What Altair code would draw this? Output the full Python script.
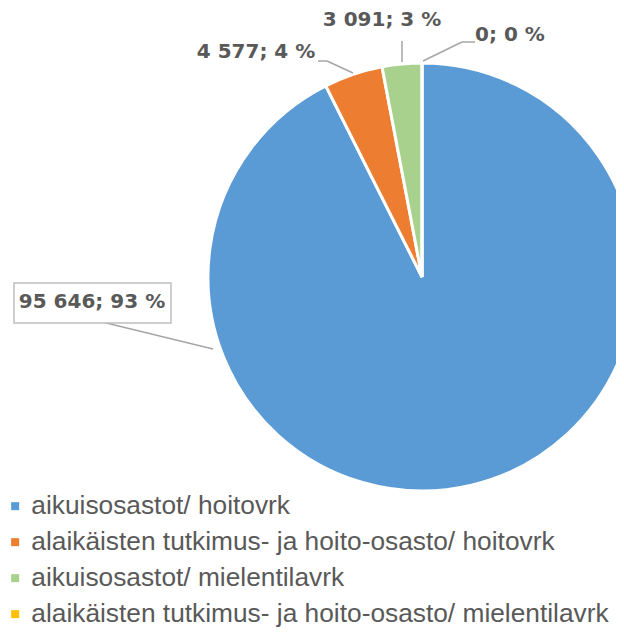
import altair as alt
import pandas as pd

# ---- data ----
categories = [
    "aikuisosastot/ hoitovrk",
    "alaikäisten tutkimus- ja hoito-osasto/ hoitovrk",
    "aikuisosastot/ mielentilavrk",
    "alaikäisten tutkimus- ja hoito-osasto/ mielentilavrk",
]
values = [95646, 4577, 3091, 0]
colors = ["#5B9BD5", "#ED7D31", "#A9D18E", "#FFC000"]

total = sum(values)
labels = [f"{v:,}".replace(",", " ") + f"; {round(100 * v / total)} %" for v in values]

# ---- layout (chart pixels) ----
CX, CY, R = 414, 269, 214
label_x = [84, 248, 374, 502]
label_y = [294, 44, 12, 27]
seg_x = [90, 310, 319, 394, 467, 454]
seg_y = [313, 53, 53, 33, 34, 34]
seg_x2 = [205, 319, 345, 394, 454, 415]
seg_y2 = [341, 53, 65, 54, 34, 53]
box = dict(x=6, x2=163, y=275, y2=315)

df = pd.DataFrame({"category": categories, "value": values, "idx": list(range(len(values)))})

pie = alt.Chart(df).mark_arc(outerRadius=R, stroke="white", strokeWidth=3).encode(
    theta=alt.Theta("value:Q", stack=True),
    order=alt.Order("idx:Q"),
    color=alt.Color(
        "category:N",
        scale=alt.Scale(domain=categories, range=colors),
        sort=categories,
        legend=alt.Legend(
            title=None,
            orient="none",
            legendX=-6,
            legendY=485,
            direction="vertical",
            symbolType="square",
            symbolSize=64,
            symbolStrokeWidth=0,
            labelFont="Liberation Sans",
            labelFontSize=26.3,
            labelColor="#595959",
            labelLimit=800,
            labelOffset=3,
            rowPadding=9,
            padding=0,
        ),
    ),
    x=alt.value(CX),
    y=alt.value(CY),
)

seg_df = pd.DataFrame({"x": seg_x, "y": seg_y, "x2": seg_x2, "y2": seg_y2})
leaders = alt.Chart(seg_df).mark_rule(color="#A6A6A6", strokeWidth=1.5).encode(
    x=alt.X("x:Q", scale=None, axis=None),
    y=alt.Y("y:Q", scale=None, axis=None),
    x2="x2:Q",
    y2="y2:Q",
)

box_chart = alt.Chart(pd.DataFrame({"a": [0]})).mark_rect(
    fill="white", stroke="#BFBFBF", strokeWidth=1.5
).encode(
    x=alt.value(box["x"]), x2=alt.value(box["x2"]), y=alt.value(box["y"]), y2=alt.value(box["y2"])
)

lab_df = pd.DataFrame({"label": labels, "lx": label_x, "ly": label_y})
texts = alt.Chart(lab_df).mark_text(
    font="DejaVu Sans", fontWeight="bold", fontSize=20, color="#595959",
    align="center", baseline="middle",
).encode(
    x=alt.X("lx:Q", scale=None, axis=None),
    y=alt.Y("ly:Q", scale=None, axis=None),
    text="label:N",
)

chart = alt.layer(pie, leaders, box_chart, texts).properties(
    width=608, height=620, padding=0, autosize=alt.AutoSizeParams(type="none")
).configure_view(stroke=None)

chart.save("out.html", embed_options={"renderer": "svg", "actions": False})
